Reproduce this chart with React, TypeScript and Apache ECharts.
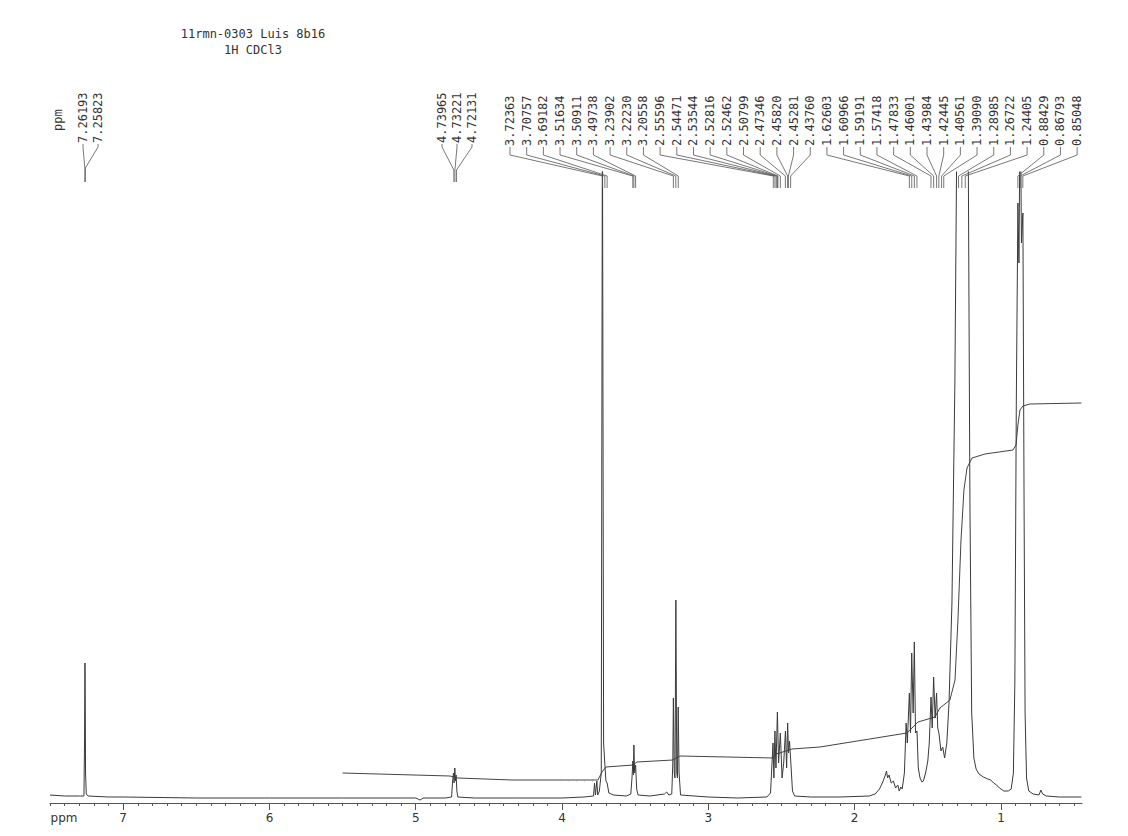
import React, { useEffect, useRef } from 'react';
import * as echarts from 'echarts';

// ---------- data ----------
const titleLines = ['11rmn-0303 Luis 8b16', '1H CDCl3'];
const xTickLabels = [1, 2, 3, 4, 5, 6, 7];

const solventLabels = ['7.26193', '7.25823'];
const olefinLabels = ['4.73965', '4.73221', '4.72131'];
const aliphaticLabels = [
  '3.72363', '3.70757', '3.69182', '3.51634', '3.50911', '3.49738',
  '3.23902', '3.22230', '3.20558', '2.55596', '2.54471', '2.53544',
  '2.52816', '2.52462', '2.50799', '2.47346', '2.45820', '2.45281',
  '2.43760', '1.62603', '1.60966', '1.59191', '1.57418', '1.47833',
  '1.46001', '1.43984', '1.42445', '1.40561', '1.39090', '1.28985',
  '1.26722', '1.24405', '0.88429', '0.86793', '0.85048',
];

// spectrum trace: chemical shift (ppm) and intensity (arb. units)
const specPpm = [
  7.50, 7.40, 7.30, 7.268, 7.264, 7.261, 7.259, 7.257, 7.252, 7.24, 7.10, 7.00,
  6.50, 6.00, 5.50, 5.10, 5.00, 4.97, 4.95, 4.80,
  4.755, 4.748, 4.742, 4.738, 4.733, 4.728, 4.724, 4.719, 4.712, 4.60, 4.30, 4.00,
  3.85, 3.785, 3.778, 3.772, 3.762, 3.756, 3.745, 3.732, 3.724, 3.716, 3.708, 3.700,
  3.692, 3.68, 3.65, 3.56, 3.53, 3.522, 3.516, 3.512, 3.509, 3.504, 3.497, 3.490,
  3.48, 3.40, 3.30, 3.285, 3.27, 3.25, 3.243, 3.239, 3.233, 3.228, 3.222, 3.216,
  3.211, 3.206, 3.200, 3.19, 3.00, 2.80, 2.60, 2.575, 2.558, 2.552, 2.545, 2.538,
  2.528, 2.520, 2.508, 2.496, 2.485, 2.473, 2.465, 2.458, 2.452, 2.445, 2.438, 2.425,
  2.41, 2.30, 2.10, 1.90, 1.86, 1.83, 1.805, 1.79, 1.782, 1.775, 1.765, 1.75,
  1.735, 1.72, 1.705, 1.695, 1.685, 1.675, 1.66, 1.648, 1.640, 1.626, 1.618, 1.610,
  1.600, 1.592, 1.584, 1.574, 1.565, 1.553, 1.54, 1.53, 1.515, 1.50, 1.490, 1.478,
  1.470, 1.460, 1.450, 1.440, 1.432, 1.424, 1.41, 1.398, 1.385, 1.37, 1.355, 1.335,
  1.315, 1.30, 1.225, 1.212, 1.20, 1.185, 1.17, 1.15, 1.12, 1.09, 1.07, 1.05,
  1.03, 1.01, 0.98, 0.95, 0.93, 0.915, 0.905, 0.895, 0.884, 0.877, 0.868, 0.860,
  0.850, 0.842, 0.835, 0.825, 0.81, 0.78, 0.74, 0.727, 0.715, 0.69, 0.60, 0.45,
];
const specInt = [
  8, 7, 7, 7, 60, 140, 100, 30, 9, 7, 6, 6,
  5, 5, 5, 5, 5, 3, 5, 5,
  6, 22, 30, 20, 35, 22, 28, 12, 6, 5, 5, 5,
  6, 7, 20, 8, 22, 8, 12, 30, 700, 60, 40, 22,
  20, 10, 8, 7, 9, 25, 42, 28, 58, 30, 38, 14,
  8, 7, 9, 11, 8, 9, 40, 105, 30, 25, 203, 30,
  25, 96, 30, 8, 6, 5, 6, 10, 60, 25, 72, 35,
  91, 40, 70, 25, 40, 72, 35, 80, 50, 62, 45, 12,
  7, 6, 6, 7, 9, 14, 22, 28, 32, 25, 28, 20,
  22, 15, 18, 12, 16, 14, 30, 80, 60, 110, 70, 150,
  90, 161, 70, 72, 35, 25, 21, 22, 30, 42, 60, 106,
  75, 126, 85, 110, 75, 70, 52, 56, 45, 60, 100, 200,
  420, 700, 700, 300, 90, 45, 34, 29, 26, 24, 23, 20,
  18, 15, 12, 12, 14, 30, 120, 400, 600, 540, 720, 560,
  590, 300, 90, 25, 12, 9, 8, 13, 9, 7, 6, 6,
];

// integral trace
const integralPpm = [
  5.50, 4.766, 4.712, 4.342, 3.755, 3.727, 3.700, 3.515, 3.488, 3.242, 3.221, 3.194,
  2.558, 2.538, 2.470, 2.429, 2.237, 1.643, 1.608, 1.567, 1.451, 1.417, 1.349, 1.314,
  1.294, 1.273, 1.253, 1.232, 1.198, 1.109, 0.918, 0.897, 0.884, 0.870, 0.850, 0.802,
  0.45,
];
const integralVal = [
  30, 27, 25, 23, 23, 31, 36, 38, 41, 43, 45, 47,
  45, 49, 52, 54, 56, 70, 75, 81, 86, 95, 103, 123,
  183, 263, 313, 335, 345, 349, 353, 358, 378, 393, 397, 399,
  400,
];
const integralFaintPpm = [4.342, 3.775];
const integralFaintVal = [23, 22];

// ---------- layout ----------
const labelGroups = [
  { labels: solventLabels, start: 83, step: 15, textBottom: 143, knee: 147, conv: 168, end: 182 },
  { labels: olefinLabels, start: 442, step: 15, textBottom: 143, knee: 147, conv: 170, end: 182 },
  { labels: aliphaticLabels, start: 510, step: 16.68, textBottom: 146, knee: 155, conv: 176, end: 188 },
];

const INK = '#3a3a3a';
const MONO = 'DejaVu Sans Mono';

export default function App() {
  const ref = useRef<HTMLDivElement>(null);

  useEffect(() => {
    if (!ref.current) return;
    const chart = echarts.init(ref.current, undefined, { renderer: 'svg' });

    const labelItems: { label: string; g: number; i: number }[] = [];
    labelGroups.forEach((grp, g) => grp.labels.forEach((label, i) => labelItems.push({ label, g, i })));

    const minorTicks: number[] = [];
    for (let t = 5; t <= 75; t++) minorTicks.push(t / 10);

    const axisCommon = {
      type: 'value',
      inverse: true,
      min: 0.446,
      max: 7.5,
      position: 'bottom',
      splitLine: { show: false },
    };

    chart.setOption({
      animation: false,
      backgroundColor: '#ffffff',
      grid: { left: 50, right: 46, top: 172, bottom: 33, containLabel: false },
      xAxis: [
        {
          ...axisCommon,
          axisLine: { show: true, lineStyle: { color: '#555', width: 1 } },
          axisTick: { show: true, customValues: xTickLabels, length: 7, lineStyle: { color: '#555' } },
          axisLabel: {
            show: true,
            customValues: xTickLabels,
            margin: 9,
            color: '#333',
            fontFamily: 'DejaVu Sans',
            fontSize: 12,
            formatter: (v: number) => String(Math.round(v)),
          },
        },
        {
          ...axisCommon,
          axisLine: { show: false },
          axisTick: { show: true, customValues: minorTicks, length: 3, lineStyle: { color: '#555' } },
          axisLabel: { show: false },
        },
      ],
      yAxis: { type: 'value', min: 0, max: 631, show: false },
      series: [
        {
          type: 'line',
          name: 'spectrum',
          data: specPpm.map((p, k) => [p, specInt[k]]),
          showSymbol: false,
          clip: true,
          lineStyle: { color: INK, width: 1 },
          z: 3,
        },
        {
          type: 'line',
          name: 'integral',
          data: integralPpm.map((p, k) => [p, integralVal[k]]),
          showSymbol: false,
          clip: true,
          lineStyle: { color: '#444', width: 1 },
          z: 2,
        },
        {
          type: 'line',
          name: 'integral-faint',
          data: integralFaintPpm.map((p, k) => [p, integralFaintVal[k]]),
          showSymbol: false,
          clip: true,
          lineStyle: { color: '#999', width: 1, type: [1, 7] },
          z: 2,
        },
        {
          type: 'custom',
          name: 'peak-labels',
          clip: false,
          silent: true,
          data: labelItems.map((it) => [parseFloat(it.label), it.i, it.g]),
          renderItem: (params: any, api: any) => {
            const item = labelItems[params.dataIndex];
            const grp = labelGroups[item.g];
            const lx = grp.start + item.i * grp.step;
            const px = api.coord([api.value(0), 0])[0];
            return {
              type: 'group',
              children: [
                {
                  type: 'polyline',
                  shape: { points: [[lx, grp.textBottom + 1], [lx, grp.knee], [px, grp.conv], [px, grp.end]] },
                  style: { stroke: '#555', lineWidth: 0.8, fill: null },
                },
                {
                  type: 'text',
                  x: lx,
                  y: grp.textBottom,
                  rotation: Math.PI / 2,
                  style: {
                    text: item.label,
                    font: `12px "${MONO}"`,
                    fill: '#333',
                    align: 'left',
                    verticalAlign: 'middle',
                  },
                },
              ],
            };
          },
          z: 4,
        },
      ],
      graphic: [
        {
          type: 'text',
          x: 253,
          y: 34,
          style: { text: titleLines[0], font: `12px "${MONO}"`, fill: '#333', align: 'center', verticalAlign: 'middle' },
        },
        {
          type: 'text',
          x: 253,
          y: 50,
          style: { text: titleLines[1], font: `12px "${MONO}"`, fill: '#333', align: 'center', verticalAlign: 'middle' },
        },
        {
          type: 'text',
          x: 58,
          y: 131,
          rotation: Math.PI / 2,
          style: { text: 'ppm', font: `12px "${MONO}"`, fill: '#333', align: 'left', verticalAlign: 'middle' },
        },
        {
          type: 'text',
          x: 64,
          y: 818,
          style: { text: 'ppm', font: '12px "DejaVu Sans"', fill: '#333', align: 'center', verticalAlign: 'middle' },
        },
      ],
    });

    return () => chart.dispose();
  }, []);

  return (
    <div
      ref={ref}
      style={{ position: 'fixed', left: 0, top: 0, width: 1128, height: 836, background: '#fff' }}
    />
  );
}
